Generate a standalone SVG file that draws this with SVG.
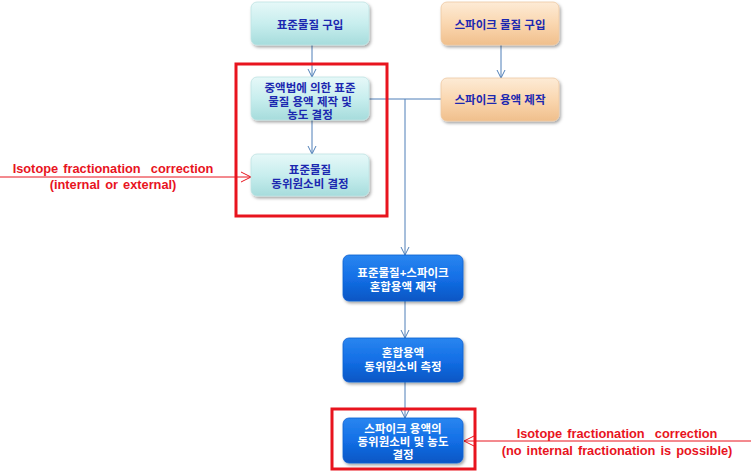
<svg xmlns="http://www.w3.org/2000/svg" width="751" height="473" viewBox="0 0 751 473">
<defs>
<linearGradient id="gCyan" x1="0" y1="0" x2="0" y2="1">
<stop offset="0" stop-color="#e6f8f8"/><stop offset="0.5" stop-color="#c8eeee"/><stop offset="1" stop-color="#a6dcdc"/>
</linearGradient>
<linearGradient id="gOrange" x1="0" y1="0" x2="0" y2="1">
<stop offset="0" stop-color="#fdebd6"/><stop offset="0.5" stop-color="#fad7b0"/><stop offset="1" stop-color="#f0bf8c"/>
</linearGradient>
<linearGradient id="gBlue" x1="0" y1="0" x2="0" y2="1">
<stop offset="0" stop-color="#2a86f0"/><stop offset="0.5" stop-color="#136fe6"/><stop offset="1" stop-color="#0a56c4"/>
</linearGradient>
<marker id="arrB" markerWidth="10" markerHeight="10" refX="9" refY="5" orient="auto" markerUnits="userSpaceOnUse">
<path d="M1,1 L9,5 L1,9" fill="none" stroke="#4f7fb8" stroke-width="1"/>
</marker>
<marker id="arrR" markerWidth="12" markerHeight="12" refX="11" refY="6" orient="auto" markerUnits="userSpaceOnUse">
<path d="M1,1 L11,6 L1,11" fill="none" stroke="#e8141e" stroke-width="1"/>
</marker>
<filter id="sh" x="-10%" y="-10%" width="125%" height="135%">
<feDropShadow dx="1.5" dy="2" stdDeviation="1.5" flood-color="#000" flood-opacity="0.35"/>
</filter>
</defs>
<style>
.cy{fill:url(#gCyan);stroke:#bfe3e3;stroke-width:0.8}
.or{fill:url(#gOrange);stroke:#edc9a3;stroke-width:0.8}
.bl{fill:url(#gBlue);stroke:#1060d0;stroke-width:0.8}
.t{font-family:"Liberation Sans","Noto Sans CJK KR",sans-serif;font-size:11.5px;font-weight:bold;text-anchor:middle}
.td{fill:#1c28b0}
.tw{fill:#ffffff}
.conn{fill:none;stroke:#4f7fb8;stroke-width:1}
.red{fill:none;stroke:#e8141e;stroke-width:3}
.rl{fill:none;stroke:#e8141e;stroke-width:1}
.rt{font-family:"Liberation Sans","Noto Sans",sans-serif;font-size:12.8px;font-weight:bold;fill:#e8141e;text-anchor:middle;word-spacing:1.5px}
</style>

<g id="connectors">
<line class="conn" x1="312" y1="45" x2="312" y2="77" marker-end="url(#arrB)"/>
<line class="conn" x1="312" y1="120" x2="312" y2="154" marker-end="url(#arrB)"/>
<line class="conn" x1="501" y1="45" x2="501" y2="78" marker-end="url(#arrB)"/>
<polyline class="conn" points="369,99 441,99"/>
<line class="conn" x1="405" y1="99" x2="405" y2="255" marker-end="url(#arrB)"/>
<line class="conn" x1="405" y1="301" x2="405" y2="338" marker-end="url(#arrB)"/>
<line class="conn" x1="405" y1="382" x2="405" y2="418" marker-end="url(#arrB)"/>
<line class="rl" x1="0" y1="177" x2="251" y2="177" marker-end="url(#arrR)"/>
<line class="rl" x1="751" y1="441" x2="464" y2="441" marker-end="url(#arrR)"/>
</g>

<g id="n1"><rect class="cy" x="251" y="2" width="118" height="43" rx="6" filter="url(#sh)"/>
<text class="t td" x="310" y="29">표준물질 구입</text></g>

<g id="n2"><rect class="cy" x="251" y="77" width="118" height="43" rx="6" filter="url(#sh)"/>
<text class="t td" y="92"><tspan x="310">중액법에 의한 표준</tspan><tspan x="310" dy="13.5">물질 용액 제작 및</tspan><tspan x="310" dy="13.5">농도 결정</tspan></text></g>

<g id="n3"><rect class="cy" x="251" y="154" width="118" height="42" rx="6" filter="url(#sh)"/>
<text class="t td" y="174"><tspan x="310">표준물질</tspan><tspan x="310" dy="14">동위원소비 결정</tspan></text></g>

<g id="n4"><rect class="or" x="441" y="2" width="118" height="43" rx="6" filter="url(#sh)"/>
<text class="t td" x="500" y="29">스파이크 물질 구입</text></g>

<g id="n5"><rect class="or" x="441" y="78" width="118" height="43" rx="6" filter="url(#sh)"/>
<text class="t td" x="500" y="104">스파이크 용액 제작</text></g>

<g id="n6"><rect class="bl" x="343" y="255" width="120" height="46" rx="6" filter="url(#sh)"/>
<text class="t tw" y="277"><tspan x="403">표준물질+스파이크</tspan><tspan x="403" dy="14">혼합용액 제작</tspan></text></g>

<g id="n7"><rect class="bl" x="343" y="338" width="120" height="44" rx="6" filter="url(#sh)"/>
<text class="t tw" y="357"><tspan x="403">혼합용액</tspan><tspan x="403" dy="14">동위원소비 측정</tspan></text></g>

<g id="n8"><rect class="bl" x="343" y="418" width="120" height="45" rx="6" filter="url(#sh)"/>
<text class="t tw" y="433"><tspan x="403">스파이크 용액의</tspan><tspan x="403" dy="13">동위원소비 및 농도</tspan><tspan x="403" dy="13">결정</tspan></text></g>

<g id="frames">
<rect class="red" x="236" y="64" width="151" height="152"/>
<rect class="red" x="332" y="409" width="143" height="60"/>
</g>

<g id="labels">
<text class="rt" y="173" xml:space="preserve"><tspan x="113">Isotope fractionation  correction</tspan><tspan x="113" dy="16">(internal or external)</tspan></text>
<text class="rt" y="438" xml:space="preserve"><tspan x="617">Isotope fractionation  correction</tspan><tspan x="617" dy="16.5">(no internal fractionation is possible)</tspan></text>
</g>
</svg>
